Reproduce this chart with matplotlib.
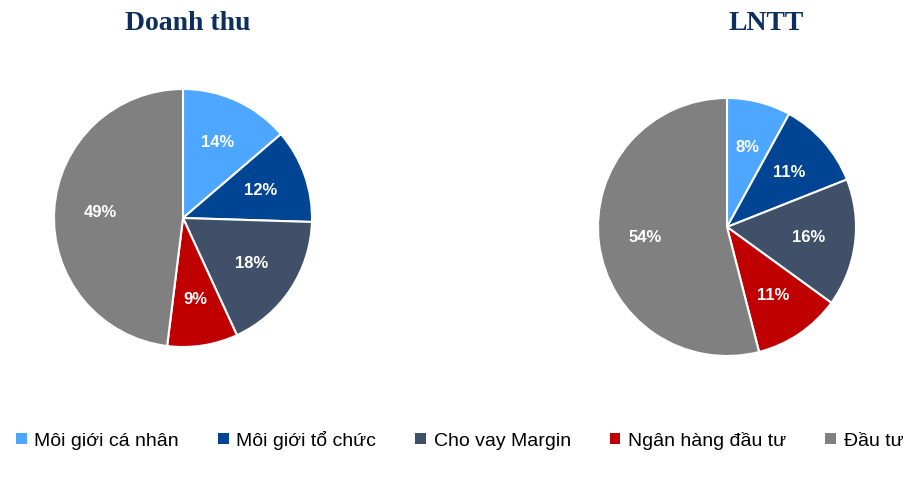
import matplotlib
matplotlib.use("Agg")
import matplotlib.pyplot as plt
from matplotlib.patches import Patch

categories = ["Môi giới cá nhân", "Môi giới tổ chức", "Cho vay Margin", "Ngân hàng đầu tư", "Đầu tư"]
doanh_thu = [14, 12, 18, 9, 49]
lntt = [8, 11, 16, 11, 54]
colors = ["#4da6ff", "#004494", "#3f5068", "#c00000", "#808080"]

fig = plt.figure(figsize=(9.1, 4.86), dpi=100)
W, H = 910, 486

def draw(cx, cy, r, vals, title, tx):
    ax = fig.add_axes([(cx - r) / W, 1 - (cy + r) / H, 2 * r / W, 2 * r / H])
    ax.pie(vals, colors=colors, startangle=90, counterclock=False,
           wedgeprops=dict(edgecolor="white", linewidth=1.5),
           autopct=lambda p: f"{p*sum(vals)/100:.0f}%", pctdistance=0.64,
           textprops=dict(color="white", fontweight="bold", fontsize=12, family="Liberation Sans"))
    ax.set_xlim(-1, 1)
    ax.set_ylim(-1, 1)
    ax.set_aspect("equal")
    fig.text(tx / W, 1 - 24 / H, title, ha="center", va="center", fontsize=20,
             fontweight="bold", color="#0d2f5e", family="Liberation Serif")

draw(183, 218, 129, doanh_thu, "Doanh thu", 188)
draw(727, 227, 129, lntt, "LNTT", 766)

handles = [Patch(facecolor=c, label=l) for c, l in zip(colors, categories)]
fig.legend(handles=handles, loc="center", bbox_to_anchor=(0.505, 1 - 440 / H), ncol=5,
           frameon=False, prop=dict(family="Liberation Sans", size=14),
           handlelength=0.55, handleheight=0.55, handletextpad=0.4, columnspacing=2.0)
fig.savefig("out.png", dpi=100)
